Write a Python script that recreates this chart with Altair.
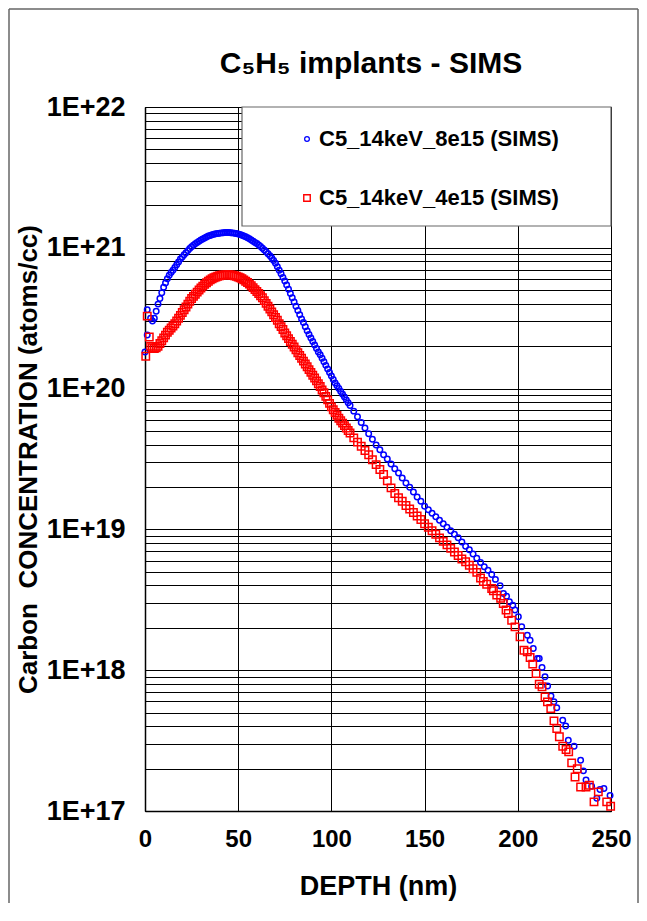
import altair as alt
import pandas as pd

SERIES = ["C5_14keV_8e15 (SIMS)", "C5_14keV_4e15 (SIMS)"]
COLORS = ["#0000FF", "#FF0000"]

# Blue series (8e15): depth in nm, log10 of concentration (atoms/cc)
BLUE_DEPTH = [0.0, 1.2, 1.2,
              3, 4, 5, 6, 7, 8, 9, 10, 11, 12, 13, 14, 15, 16, 17, 18, 19, 20,
              21, 22, 23, 24, 25, 26, 27, 28, 29, 30, 31, 32, 33, 34, 35, 36, 37, 38, 39, 40,
              41, 42, 43, 44, 45, 46, 47, 48, 49, 50, 51, 52, 53, 54, 55, 56, 57, 58, 59, 60,
              61, 62, 63, 64, 65, 66, 67, 68, 69, 70, 71, 72, 73, 74, 75, 76, 77, 78, 79, 80,
              81, 82, 83, 84, 85, 86, 87, 88, 89, 90, 91, 92, 93, 94, 95, 96, 97, 98, 99, 100,
              101, 102, 103, 104, 105, 106, 107, 108, 109, 110,
              112, 114, 116, 118, 120, 122, 124, 126, 128, 130, 132, 134, 136, 138, 140,
              142, 144, 146, 148, 150, 152, 154, 156, 158, 160, 162, 164, 166, 168, 170,
              172, 174, 176, 178, 180, 182, 184, 186, 188,
              190.5, 192.3, 194.0, 195.5, 197.3, 198.5, 200.3, 202.1, 205.1, 206.6, 208.3,
              210.5, 211.5, 213.0, 214.6, 216.0, 217.8, 219.4, 220.9, 224.1, 225.7, 227.1,
              230.2, 233.7, 235.2, 236.6, 239.6, 244.1, 246.2, 249.5, 242.4]
BLUE_LOG = [20.26, 20.38, 20.56,
            20.50, 20.48, 20.50, 20.55, 20.60, 20.64, 20.68, 20.72, 20.75, 20.78, 20.805, 20.825,
            20.84, 20.86, 20.88, 20.90, 20.92, 20.935,
            20.95, 20.965, 20.98, 20.995, 21.007, 21.018, 21.028, 21.038, 21.047, 21.055,
            21.062, 21.07, 21.077, 21.083, 21.088, 21.092, 21.096, 21.099, 21.102, 21.104,
            21.106, 21.107, 21.108, 21.108, 21.108, 21.107, 21.106, 21.104, 21.101, 21.098,
            21.094, 21.089, 21.084, 21.078, 21.071, 21.064, 21.056, 21.047, 21.038, 21.030,
            21.020, 21.009, 20.997, 20.985, 20.972, 20.958, 20.943, 20.927, 20.910, 20.89,
            20.865, 20.84, 20.815, 20.79, 20.765, 20.735, 20.705, 20.675, 20.645, 20.615,
            20.585, 20.555, 20.525, 20.495, 20.47, 20.44, 20.41, 20.385, 20.36, 20.335,
            20.31, 20.285, 20.26, 20.24, 20.215, 20.19, 20.165, 20.14, 20.115, 20.09,
            20.065, 20.04, 20.02, 20.00, 19.98, 19.96, 19.94, 19.92, 19.90, 19.88,
            19.84, 19.80, 19.76, 19.72, 19.68, 19.64, 19.60, 19.565, 19.53, 19.50, 19.465,
            19.43, 19.40, 19.365, 19.33,
            19.30, 19.265, 19.23, 19.20, 19.165, 19.14, 19.115, 19.09, 19.065, 19.04,
            19.015, 18.99, 18.965, 18.94, 18.91,
            18.88, 18.855, 18.825, 18.795, 18.765, 18.735, 18.71, 18.68, 18.645,
            18.60, 18.545, 18.526, 18.486, 18.462, 18.427, 18.379, 18.308, 18.249, 18.213, 18.154,
            18.083, 18.083, 18.02, 17.953, 17.887, 17.816, 17.776, 17.733, 17.645, 17.603, 17.503,
            17.46, 17.36, 17.285, 17.22, 17.176, 17.153, 17.16, 17.11, 17.09]

# Red series (4e15)
RED_DEPTH = [0.4, 1.2, 2.3,
             3, 4, 5, 6, 7, 8, 9, 10, 11, 12, 13, 14, 15, 16, 17, 18, 19, 20,
             21, 22, 23, 24, 25, 26, 27, 28, 29, 30, 31, 32, 33, 34, 35, 36, 37, 38, 39, 40,
             41, 42, 43, 44, 45, 46, 47, 48, 49, 50, 51, 52, 53, 54, 55, 56, 57, 58, 59, 60,
             61, 62, 63, 64, 65, 66, 67, 68, 69, 70, 71, 72, 73, 74, 75, 76, 77, 78, 79, 80,
             81, 82, 83, 84, 85, 86, 87, 88, 89, 90, 91, 92, 93, 94, 95, 96, 97, 98, 99, 100,
             101, 102, 103, 104, 105, 106, 107, 108, 109, 110,
             112, 114, 116, 118, 120, 122, 124, 126, 128, 130, 132, 134, 136, 138, 140,
             142, 144, 146, 148, 150, 152, 154, 156, 158, 160, 162, 164, 166, 168, 170,
             172, 174, 176, 178, 180,
             181.5, 183.3, 186.0, 186.9, 188.7, 190.8, 192.2, 193.7, 194.9, 196.7, 198.5,
             201.2, 203.3, 205.1, 206.6, 208.0, 209.8, 211.5, 213.0, 214.6, 215.9, 217.7,
             219.4, 220.9, 222.3, 224.1, 225.9, 227.3, 228.9, 231.9, 230.7, 233.7, 236.6,
             238.4, 243.2, 240.9, 247.7, 249.8]
RED_LOG = [20.23, 20.515, 20.366,
           20.30, 20.29, 20.285, 20.29, 20.30, 20.32, 20.34, 20.36, 20.38, 20.40, 20.415, 20.43,
           20.445, 20.46, 20.48, 20.50, 20.52, 20.54,
           20.56, 20.58, 20.60, 20.62, 20.64, 20.655, 20.67, 20.685, 20.70, 20.715,
           20.728, 20.74, 20.752, 20.762, 20.772, 20.78, 20.787, 20.793, 20.798, 20.802,
           20.805, 20.807, 20.808, 20.808, 20.808, 20.807, 20.805, 20.802, 20.798, 20.793,
           20.787, 20.78, 20.772, 20.763, 20.753, 20.742, 20.73, 20.717, 20.703, 20.69,
           20.675, 20.66, 20.645, 20.625, 20.605, 20.585, 20.565, 20.545, 20.525, 20.505,
           20.485, 20.46, 20.44, 20.42, 20.395, 20.375, 20.355, 20.335, 20.315, 20.295,
           20.275, 20.255, 20.235, 20.215, 20.195, 20.175, 20.155, 20.135, 20.115, 20.095,
           20.075, 20.055, 20.035, 20.015, 19.99, 19.97, 19.945, 19.92, 19.895, 19.87,
           19.85, 19.83, 19.81, 19.79, 19.772, 19.755, 19.737, 19.72, 19.702, 19.685,
           19.65, 19.62, 19.59, 19.56, 19.53, 19.495, 19.46, 19.425, 19.39, 19.345, 19.295,
           19.255, 19.225, 19.20, 19.17,
           19.145, 19.12, 19.095, 19.07, 19.04, 19.015, 18.99, 18.965, 18.94, 18.915,
           18.89, 18.865, 18.84, 18.815, 18.79,
           18.77, 18.745, 18.72, 18.695, 18.655,
           18.63, 18.61, 18.58, 18.564, 18.533, 18.51, 18.474, 18.427, 18.403, 18.355, 18.308,
           18.237, 18.142, 18.13, 18.09, 18.043, 17.977, 17.90, 17.882, 17.81, 17.775, 17.728,
           17.64, 17.586, 17.527, 17.46, 17.437, 17.42, 17.342, 17.30, 17.242, 17.17, 17.17,
           17.183, 17.136, 17.065, 17.065, 17.034]

X_TICKS = [0, 50, 100, 150, 200, 250]
Y_DECADES = [17, 18, 19, 20, 21, 22]
TITLE = "C\u2085H\u2085 implants - SIMS"
X_TITLE = "DEPTH (nm)"
Y_TITLE = "Carbon\u00a0\u00a0CONCENTRATION (atoms/cc)"

blue = pd.DataFrame({"depth": BLUE_DEPTH, "conc": [10 ** v for v in BLUE_LOG]})
red = pd.DataFrame({"depth": RED_DEPTH, "conc": [10 ** v for v in RED_LOG]})
one = pd.DataFrame({"k": [0]})

y_grid = [k * 10 ** n for n in Y_DECADES[:-1] for k in range(1, 10)] + [10 ** Y_DECADES[-1]]

FONT = "Liberation Sans"
W, H = 466, 704
PAD_L, PAD_T, PAD_R, PAD_B = 137, 99, 28, 92

x_enc = alt.X("depth:Q", scale=alt.Scale(domain=[0, 250], nice=False, zero=False),
              axis=alt.Axis(values=X_TICKS, title=X_TITLE, titleY=75, titleBaseline="middle",
                            labelFontSize=24, labelPadding=16, labelFlush=False,
                            titleFontSize=27))
y_enc = alt.Y("conc:Q", scale=alt.Scale(type="log", domain=[1e17, 1e22], nice=False),
              axis=alt.Axis(values=y_grid, title=Y_TITLE, titleX=-117, titleY=352,
                            titleBaseline="middle", titleFontSize=26,
                            labelFontSize=27, labelPadding=20, labelFlush=False,
                            labelExpr="abs(log(datum.value)/LN10 - round(log(datum.value)/LN10)) < 0.001 ? '1E+' + round(log(datum.value)/LN10) : ''"))

blue_layer = alt.Chart(blue).mark_point(shape="circle", filled=False, color=COLORS[0],
                                        size=30, strokeWidth=1.5, opacity=1).encode(x=x_enc, y=y_enc)
red_layer = alt.Chart(red).mark_point(shape="square", filled=False, color=COLORS[1],
                                      size=55, strokeWidth=1.5, opacity=1).encode(x="depth:Q", y="conc:Q")

# outer frame (left, top, right edges) kept inside the canvas
fx0, fx1 = -PAD_L + 1, W + PAD_R - 1
fy0, fy1 = -PAD_T + 1, H + PAD_B
frame_style = dict(color="#666666", strokeWidth=1.5)
frame_l = alt.Chart(one).mark_rule(**frame_style).encode(
    x=alt.value(fx0), y=alt.value(fy0), y2=alt.value(fy1))
frame_r = alt.Chart(one).mark_rule(**frame_style).encode(
    x=alt.value(fx1), y=alt.value(fy0), y2=alt.value(fy1))
frame_t = alt.Chart(one).mark_rule(**frame_style).encode(
    x=alt.value(fx0), x2=alt.value(fx1), y=alt.value(fy0))

title = alt.Chart(one).mark_text(text=TITLE, font=FONT, fontSize=30, fontWeight="bold",
                                 align="center", baseline="middle", color="black").encode(
    x=alt.value(226), y=alt.value(-43))

legend_box = alt.Chart(one).mark_rect(fill="white", stroke="#666666", strokeWidth=1.2).encode(
    x=alt.value(97), x2=alt.value(466), y=alt.value(0), y2=alt.value(119))
leg_sym1 = alt.Chart(one).mark_point(shape="circle", filled=False, color=COLORS[0], size=22,
                                     strokeWidth=1.3, opacity=1).encode(x=alt.value(162), y=alt.value(32))
leg_sym2 = alt.Chart(one).mark_point(shape="square", filled=False, color=COLORS[1], size=42,
                                     strokeWidth=1.4, opacity=1).encode(x=alt.value(162), y=alt.value(91))
leg_txt1 = alt.Chart(one).mark_text(text=SERIES[0], font=FONT, fontSize=22, fontWeight="bold",
                                    align="left", baseline="middle", color="black").encode(
    x=alt.value(174), y=alt.value(32))
leg_txt2 = alt.Chart(one).mark_text(text=SERIES[1], font=FONT, fontSize=22, fontWeight="bold",
                                    align="left", baseline="middle", color="black").encode(
    x=alt.value(174), y=alt.value(91))

chart = alt.layer(frame_l, frame_r, frame_t, title, blue_layer, red_layer, legend_box,
                  leg_sym1, leg_sym2, leg_txt1, leg_txt2).properties(
    width=W, height=H,
    autosize=alt.AutoSizeParams(type="none"),
    padding={"left": PAD_L, "top": PAD_T, "right": PAD_R, "bottom": PAD_B},
    background="white",
).configure_view(stroke="black", strokeWidth=1).configure_axis(
    labelFont=FONT, titleFont=FONT, labelFontWeight="bold", titleFontWeight="bold",
    labelColor="black", titleColor="black", domainColor="black", domainWidth=1.5,
    ticks=False, grid=True, gridColor="black", gridWidth=1, gridOpacity=1,
)

chart.save("out.html", embed_options={"renderer": "svg", "actions": False})
